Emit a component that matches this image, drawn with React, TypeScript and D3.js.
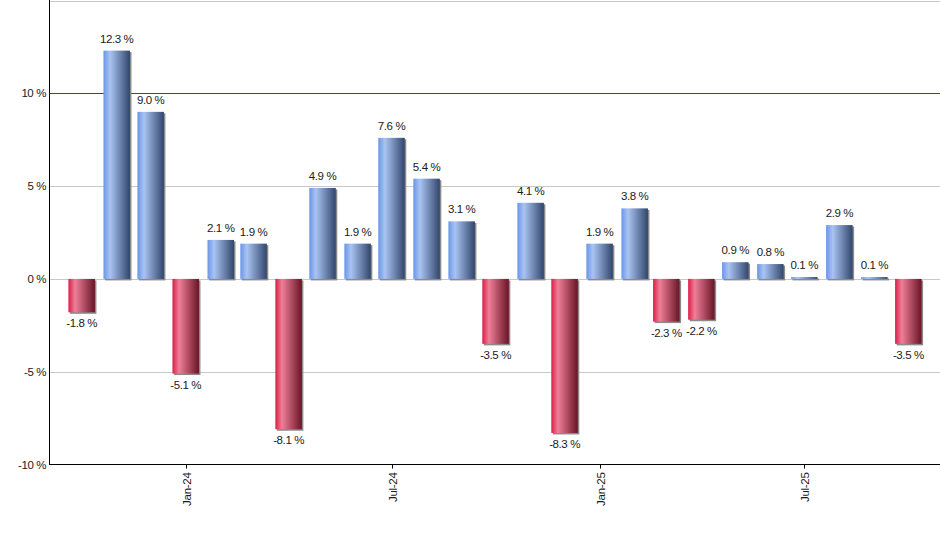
import React, { useEffect, useRef } from 'react';
import * as d3 from 'd3';

const months = [
  '2023-10', '2023-11', '2023-12', '2024-01', '2024-02', '2024-03', '2024-04',
  '2024-05', '2024-06', '2024-07', '2024-08', '2024-09', '2024-10', '2024-11',
  '2024-12', '2025-01', '2025-02', '2025-03', '2025-04', '2025-05', '2025-06',
  '2025-07', '2025-08', '2025-09', '2025-10',
];
const returns = [
  -1.8, 12.3, 9.0, -5.1, 2.1, 1.9, -8.1, 4.9, 1.9, 7.6, 5.4, 3.1, -3.5,
  4.1, -8.3, 1.9, 3.8, -2.3, -2.2, 0.9, 0.8, 0.1, 2.9, 0.1, -3.5,
];
const xTickMonths = ['2024-01', '2024-07', '2025-01', '2025-07'];
const xTickLabels = ['Jan-24', 'Jul-24', 'Jan-25', 'Jul-25'];
const yTicks = [-10, -5, 0, 5, 10];

const W = 940;
const H = 550;
const FONT = '"Liberation Sans", Arial, sans-serif';

const App: React.FC = () => {
  const svgRef = useRef<SVGSVGElement | null>(null);

  useEffect(() => {
    if (!svgRef.current) return;
    const svg = d3.select(svgRef.current);
    svg.selectAll('*').remove();

    const parse = d3.utcParse('%Y-%m');
    const dates = months.map((m) => parse(m) as Date);

    const left = 50, right = 940, top = 0.5, bottom = 464.5;

    const x = d3.scaleUtc()
      .domain([d3.utcDay.offset(dates[0], -28), d3.utcDay.offset(dates[dates.length - 1], 28)])
      .range([left, right]);
    const y = d3.scaleLinear().domain([-10, 15]).range([bottom, top]);

    const barW = 26.5;

    const defs = svg.append('defs');
    const grad = (id: string, stops: [number, string][]) => {
      const g = defs.append('linearGradient').attr('id', id)
        .attr('x1', '0%').attr('x2', '100%').attr('y1', '0%').attr('y2', '0%');
      stops.forEach(([o, c]) => g.append('stop').attr('offset', `${o}%`).attr('stop-color', c));
    };
    grad('gBlue', [[0, '#6a96e6'], [25, '#a9c4f2'], [100, '#31466c']]);
    grad('gRed', [[0, '#dc1d47'], [25, '#ee7f98'], [100, '#6a1426']]);

    // gridlines
    const grid = [-5, 0, 5, 15];
    svg.append('g').selectAll('line').data(grid).join('line')
      .attr('x1', left).attr('x2', right)
      .attr('y1', (d) => Math.round(y(d)) + 0.5).attr('y2', (d) => Math.round(y(d)) + 0.5)
      .attr('stroke', '#c8c8c8').attr('stroke-width', 1);
    svg.append('line')
      .attr('x1', left).attr('x2', right)
      .attr('y1', Math.round(y(10)) + 0.5).attr('y2', Math.round(y(10)) + 0.5)
      .attr('stroke', '#0b700b').attr('stroke-width', 1);

    // bars
    const bars = svg.append('g');
    returns.forEach((v, i) => {
      const cx = x(dates[i]);
      const y0 = y(Math.max(0, v));
      const h = Math.abs(y(v) - y(0));
      bars.append('rect')
        .attr('x', cx - barW / 2 + 1.5).attr('y', y0 + 1.5)
        .attr('width', barW).attr('height', h)
        .attr('fill', '#8a8a8a');
      bars.append('rect')
        .attr('x', cx - barW / 2).attr('y', y0)
        .attr('width', barW).attr('height', h)
        .attr('fill', v >= 0 ? 'url(#gBlue)' : 'url(#gRed)');
      bars.append('text')
        .attr('x', cx)
        .attr('y', v >= 0 ? y(v) - 8 : y(v) + 15)
        .attr('text-anchor', 'middle')
        .attr('font-family', FONT)
        .attr('font-size', 11.5)
        .attr('letter-spacing', -0.4)
        .attr('fill', '#1a1a1a')
        .text(`${v.toFixed(1)} %`);
    });

    // axes
    svg.append('line')
      .attr('x1', left - 0.5).attr('x2', left - 0.5).attr('y1', 0).attr('y2', bottom + 0.5)
      .attr('stroke', '#000');
    svg.append('line')
      .attr('x1', left - 1).attr('x2', right).attr('y1', bottom).attr('y2', bottom)
      .attr('stroke', '#000');

    svg.append('g').selectAll('text').data(yTicks).join('text')
      .attr('x', 46).attr('y', (d) => y(d)).attr('dy', '0.35em')
      .attr('text-anchor', 'end')
      .attr('font-family', FONT).attr('font-size', 11.5).attr('letter-spacing', -0.4)
      .attr('fill', '#1a1a1a')
      .text((d) => `${d} %`);

    const xt = svg.append('g');
    xTickMonths.forEach((m, i) => {
      const tx = Math.round(x(parse(m) as Date)) + 0.5;
      xt.append('line')
        .attr('x1', tx).attr('x2', tx).attr('y1', bottom).attr('y2', bottom + 4)
        .attr('stroke', '#000');
      xt.append('text')
        .attr('transform', `translate(${tx},${bottom + 8}) rotate(-90)`)
        .attr('dy', '0.35em')
        .attr('text-anchor', 'end')
        .attr('font-family', FONT).attr('font-size', 11.5).attr('letter-spacing', -0.3)
        .attr('fill', '#1a1a1a')
        .text(xTickLabels[i]);
    });

    return () => { svg.selectAll('*').remove(); };
  }, []);

  return (
    <div style={{ position: 'fixed', left: 0, top: 0, width: W, height: H, background: '#fff' }}>
      <svg ref={svgRef} width={W} height={H} style={{ display: 'block' }} />
    </div>
  );
};

export default App;
